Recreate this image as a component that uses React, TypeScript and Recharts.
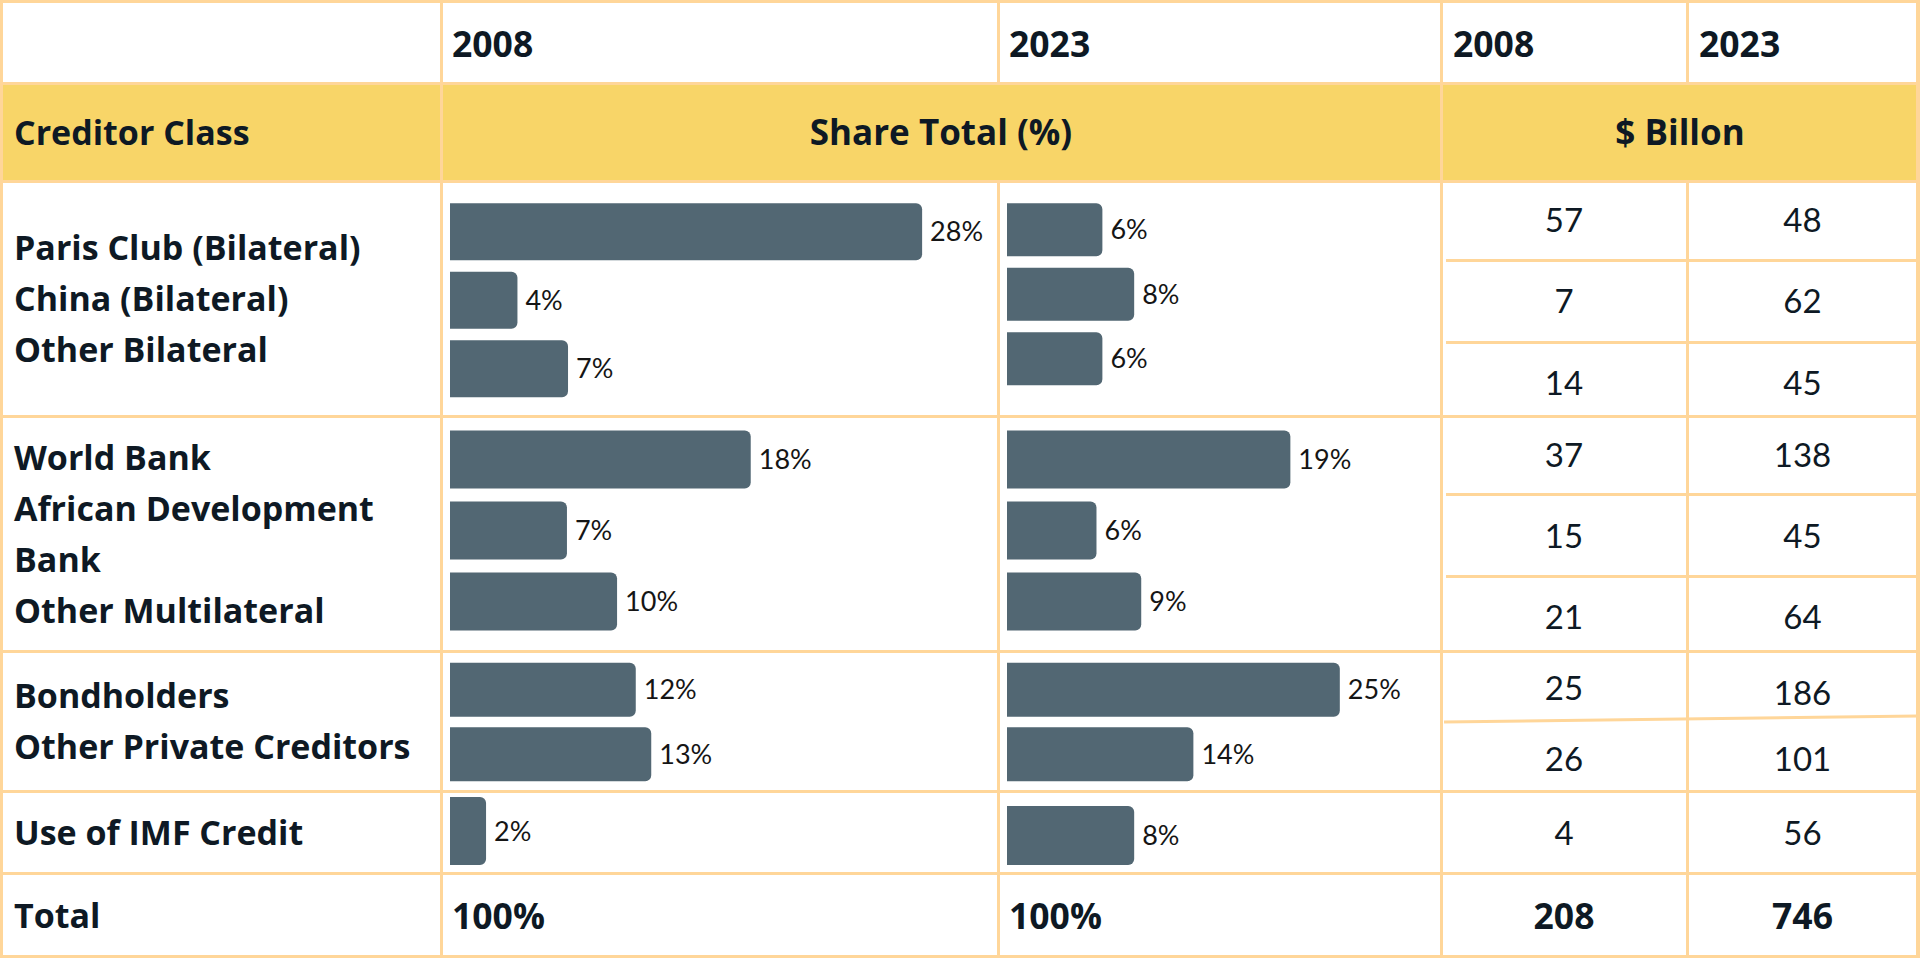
import React from 'react';
import { BarChart, Bar, XAxis, YAxis, LabelList } from 'recharts';

// ---------------- data ----------------
const categories = [
  'Paris Club (Bilateral)',
  'China (Bilateral)',
  'Other Bilateral',
  'World Bank',
  'African Development Bank',
  'Other Multilateral',
  'Bondholders',
  'Other Private Creditors',
  'Use of IMF Credit',
];
const categoryGroup = [0, 0, 0, 1, 1, 1, 2, 2, 3];
const share2008 = [28, 4, 7, 18, 7, 10, 12, 13, 2];
const share2023 = [6, 8, 6, 19, 6, 9, 25, 14, 8];
const billions2008 = [57, 7, 14, 37, 15, 21, 25, 26, 4];
const billions2023 = [48, 62, 45, 138, 45, 64, 186, 101, 56];
const years = ['2008', '2023'];
const headerTitles = ['Creditor Class', 'Share Total (%)', '$ Billon'];
const totalLabel = 'Total';
const totalShares = ['100%', '100%'];
const totalBillions = [208, 746];
const labelBreaks: Record<string, string[]> = {
  'African Development Bank': ['African Development', 'Bank'],
};

// ---------------- layout / style ----------------
const W = 1920;
const H = 960;
const LINE = '#FFD699';
const YELLOW = '#F8D568';
const BAR = '#526773';
const INK = '#0E1924';
const BOLD_FONT = '"Open Sans", "Noto Sans", sans-serif';
const REG_FONT = 'Lato, "Open Sans", sans-serif';
const BOLD_SIZE = 34;
const BOLD_NUM_SIZE = 35.5;

const colX = [0, 441, 998, 1441, 1687, 1918];
const groupY = [181, 416, 651, 791, 873];

const chartCfg2008 = [
  { top: 16.25, bottom: 13.25, barSize: 57, max: 32.5 },
  { top: 7.5, bottom: 14.5, barSize: 58, max: 32.8 },
  { top: 6.75, bottom: 4.25, barSize: 54, max: 35.4 },
  { top: 0, bottom: 2, barSize: 68, max: 30.4 },
];
const chartCfg2023 = [
  { top: 16.25, bottom: 25.25, barSize: 53, max: 27.3 },
  { top: 7.5, bottom: 14.5, barSize: 58, max: 29.1 },
  { top: 6.75, bottom: 4.25, barSize: 54, max: 32.6 },
  { top: 9, bottom: 2, barSize: 59, max: 27.3 },
];
const valueY2008 = [219, 300, 382, 454, 535, 616, 687, 758, 832];
const valueY2023 = [219, 300, 382, 454, 535, 616, 692, 758, 832];

const hLines = [1.5, 83, 181, 416, 651, 791, 873, 956.5];
const subLines = [260, 342, 494, 576];

type Cfg = { top: number; bottom: number; barSize: number; max: number };

function ShareChart(props: {
  values: number[];
  group: number;
  cfg: Cfg;
  left: number;
  width: number;
}) {
  const { values, group, cfg, left, width } = props;
  const data = categories
    .map((name, i) => ({ name, value: values[i], g: categoryGroup[i] }))
    .filter((d) => d.g === group);
  const top = groupY[group];
  const height = groupY[group + 1] - top;
  return (
    <div style={{ position: 'absolute', left, top, width, height }}>
      <BarChart
        layout="vertical"
        width={width}
        height={height}
        data={data}
        margin={{ top: cfg.top, bottom: cfg.bottom, left: 9, right: 0 }}
      >
        <XAxis type="number" hide domain={[0, cfg.max]} />
        <YAxis type="category" dataKey="name" hide />
        <Bar
          dataKey="value"
          fill={BAR}
          barSize={cfg.barSize}
          radius={[0, 6, 6, 0]}
          isAnimationActive={false}
        >
          <LabelList
            dataKey="value"
            position="right"
            offset={8}
            formatter={(v: any) => `${v}%`}
            fill="#151515"
            fontSize={27}
            fontFamily={REG_FONT}
          />
        </Bar>
      </BarChart>
    </div>
  );
}

function Txt(props: {
  x: number;
  y: number;
  children: React.ReactNode;
  bold?: boolean;
  size?: number;
  align?: 'left' | 'center';
}) {
  const { x, y, children, bold = false, size = 33, align = 'left' } = props;
  const lh = 48;
  const style: React.CSSProperties = {
    position: 'absolute',
    top: y - lh / 2,
    height: lh,
    lineHeight: `${lh}px`,
    fontSize: size,
    fontFamily: bold ? BOLD_FONT : REG_FONT,
    fontWeight: bold ? 700 : 400,
    color: INK,
    whiteSpace: 'nowrap',
  };
  if (align === 'center') {
    style.left = x - 300;
    style.width = 600;
    style.textAlign = 'center';
  } else {
    style.left = x;
  }
  return <div style={style}>{children}</div>;
}

export default function App() {
  const groups = [0, 1, 2, 3];
  const c2008 = (colX[3] + colX[4]) / 2;
  const c2023 = (colX[4] + colX[5]) / 2;
  return (
    <div
      style={{
        position: 'absolute',
        left: 0,
        top: 0,
        width: W,
        height: H,
        background: '#ffffff',
        overflow: 'hidden',
      }}
    >
      {/* yellow header band */}
      <div style={{ position: 'absolute', left: 0, top: 83, width: W, height: 98, background: YELLOW }} />

      {/* horizontal grid lines */}
      {hLines.map((y, i) => (
        <div key={'h' + i} style={{ position: 'absolute', left: 0, top: y - 1.5, width: W, height: 3, background: LINE }} />
      ))}
      {subLines.map((y, i) => (
        <div key={'s' + i} style={{ position: 'absolute', left: 1446, top: y - 1.5, width: 1918 - 1446, height: 3, background: LINE }} />
      ))}
      <svg style={{ position: 'absolute', left: 0, top: 0 }} width={W} height={H}>
        <line x1={1444} y1={722} x2={1918} y2={716} stroke={LINE} strokeWidth={3} />
      </svg>

      {/* vertical grid lines */}
      <div style={{ position: 'absolute', left: 0, top: 0, width: 3, height: 958, background: LINE }} />
      <div style={{ position: 'absolute', left: 1916, top: 0, width: 4, height: 958, background: LINE }} />
      <div style={{ position: 'absolute', left: colX[1] - 1.5, top: 0, width: 3, height: 958, background: LINE }} />
      <div style={{ position: 'absolute', left: colX[3] - 1.5, top: 0, width: 3, height: 958, background: LINE }} />
      {[colX[2], colX[4]].map((x, i) => (
        <React.Fragment key={'v' + i}>
          <div style={{ position: 'absolute', left: x - 1.5, top: 0, width: 3, height: 83, background: LINE }} />
          <div style={{ position: 'absolute', left: x - 1.5, top: 181, width: 3, height: 958 - 181, background: LINE }} />
        </React.Fragment>
      ))}

      {/* header row years */}
      <Txt x={452} y={42.5} bold size={BOLD_NUM_SIZE}>{years[0]}</Txt>
      <Txt x={1009} y={42.5} bold size={BOLD_NUM_SIZE}>{years[1]}</Txt>
      <Txt x={1453} y={42.5} bold size={BOLD_NUM_SIZE}>{years[0]}</Txt>
      <Txt x={1699} y={42.5} bold size={BOLD_NUM_SIZE}>{years[1]}</Txt>

      {/* yellow band titles */}
      <Txt x={14} y={132} bold size={BOLD_SIZE}>{headerTitles[0]}</Txt>
      <Txt x={941} y={132} bold size={BOLD_SIZE + 1} align="center">{headerTitles[1]}</Txt>
      <Txt x={1680} y={132} bold size={BOLD_SIZE + 1} align="center">{headerTitles[2]}</Txt>

      {/* creditor labels per group */}
      {groups.map((g) => {
        const lines: string[] = [];
        categories.forEach((c, i) => {
          if (categoryGroup[i] === g) {
            (labelBreaks[c] || [c]).forEach((l) => lines.push(l));
          }
        });
        const top = groupY[g];
        const height = groupY[g + 1] - top;
        return (
          <div
            key={'lab' + g}
            style={{
              position: 'absolute',
              left: 14,
              top,
              height,
              width: 420,
              display: 'flex',
              flexDirection: 'column',
              justifyContent: 'center',
              fontFamily: BOLD_FONT,
              fontWeight: 700,
              fontSize: BOLD_SIZE,
              lineHeight: '51px',
              color: INK,
              whiteSpace: 'nowrap',
            }}
          >
            {lines.map((l, k) => (
              <div key={k}>{l}</div>
            ))}
          </div>
        );
      })}

      {/* bar charts */}
      {groups.map((g) => (
        <ShareChart key={'a' + g} values={share2008} group={g} cfg={chartCfg2008[g]} left={colX[1]} width={colX[2] - colX[1]} />
      ))}
      {groups.map((g) => (
        <ShareChart key={'b' + g} values={share2023} group={g} cfg={chartCfg2023[g]} left={colX[2]} width={colX[3] - colX[2]} />
      ))}

      {/* $ billion values */}
      {billions2008.map((v, i) => (
        <Txt key={'v8' + i} x={c2008} y={valueY2008[i]} align="center">{v}</Txt>
      ))}
      {billions2023.map((v, i) => (
        <Txt key={'v23' + i} x={c2023} y={valueY2023[i]} align="center">{v}</Txt>
      ))}

      {/* totals row */}
      <Txt x={14} y={915} bold size={BOLD_SIZE}>{totalLabel}</Txt>
      <Txt x={452} y={915} bold size={BOLD_NUM_SIZE}>{totalShares[0]}</Txt>
      <Txt x={1009} y={915} bold size={BOLD_NUM_SIZE}>{totalShares[1]}</Txt>
      <Txt x={c2008} y={915} bold size={BOLD_NUM_SIZE} align="center">{totalBillions[0]}</Txt>
      <Txt x={c2023} y={915} bold size={BOLD_NUM_SIZE} align="center">{totalBillions[1]}</Txt>
    </div>
  );
}
